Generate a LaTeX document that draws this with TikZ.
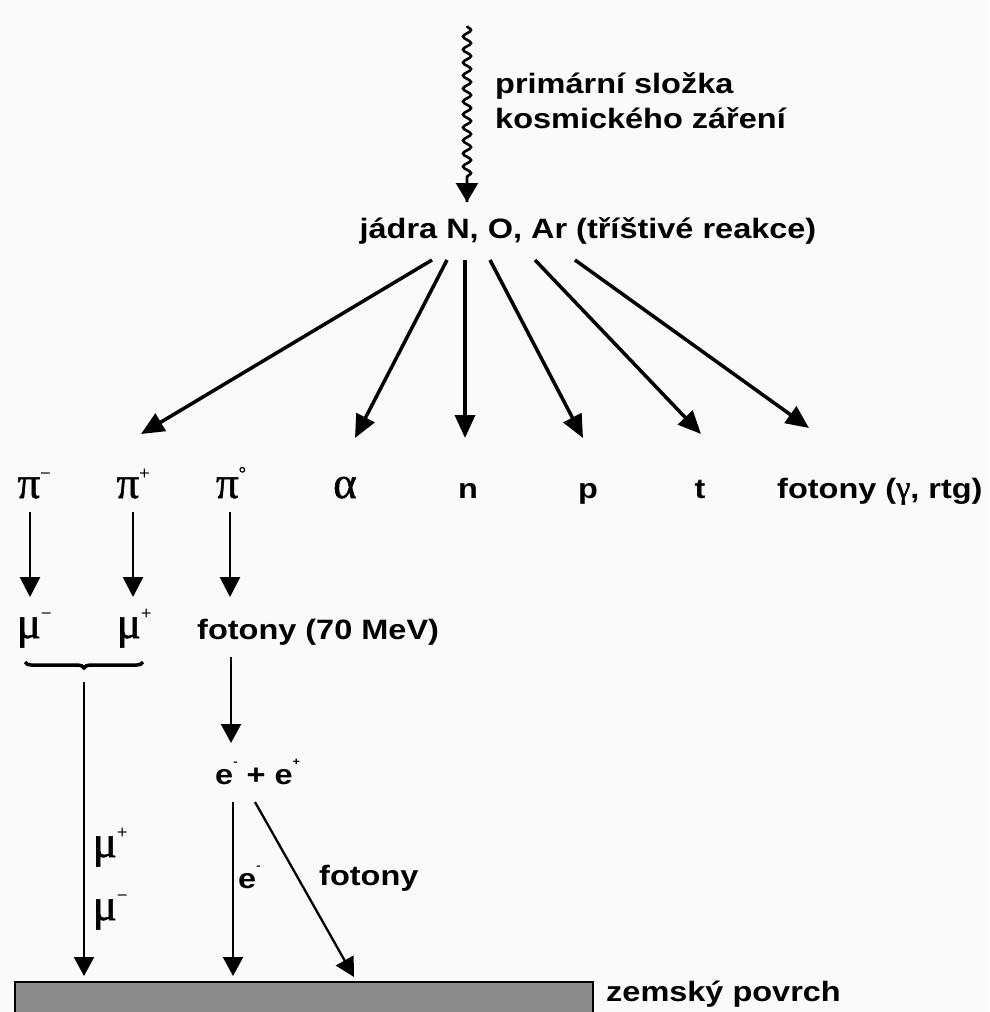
\documentclass[tikz,border=0pt]{standalone}
\usepackage{fontspec}
\setmainfont{Liberation Sans}[FakeStretch=1.16]
\newfontfamily\grk{Liberation Serif}[FakeBold=1.2]
\usetikzlibrary{arrows.meta,decorations.pathmorphing,decorations.pathreplacing,calc}
\definecolor{bg}{RGB}{250,250,250}
\definecolor{barfill}{RGB}{140,140,140}
\newcommand\gsup[1]{\raisebox{19pt}{\grk\fontsize{18}{18}\selectfont #1}}
\newcommand\esup[1]{\raisebox{19pt}{\fontsize{11}{11}\selectfont #1}}
\newcommand\gsym[2]{{\grk\fontsize{45}{45}\selectfont #1}\gsup{#2}}
\begin{document}
\begin{tikzpicture}[x=1pt,y=-1pt,
  lbl/.style={font=\bfseries\fontsize{28}{32}\selectfont, inner sep=0pt, anchor=base},
  gl/.style={inner sep=0pt, anchor=base},
  fan/.style={line width=3.5pt, -{Triangle[length=23pt,width=20pt]}},
  vert/.style={line width=2.7pt, -{Triangle[length=20pt,width=20pt]}},
  thin/.style={line width=2.3pt, -{Triangle[length=19pt,width=20pt]}}]
\fill[bg] (0,0) rectangle (989,1012);
\useasboundingbox (0,0) rectangle (989,1012);
% top
\coordinate (wtop) at (467,26);
\node[lbl, anchor=base west] (prim) at (495,93) {primární složka};
\node[lbl, anchor=base west] (kosm) at (495,128) {kosmického záření};
\node[lbl] (jadra) at (588,238) {jádra N, O, Ar (tříštivé reakce)};
\coordinate (wend) at (467,202);
\draw[line width=2.6pt, decorate, decoration={snake, amplitude=4pt, segment length=13pt, post length=20pt}] (wtop) -- (wend);
\draw[line width=2.6pt, -{Triangle[length=19pt,width=22pt]}] (467,186) -- (wend);
% row of products
\node[gl] (pim) at (34,498) {\gsym{π}{−}};
\node[gl] (pip) at (133,498) {\gsym{π}{+}};
\node[gl] (pi0) at (231,498) {\gsym{π}{°}};
\node[gl] (alpha) at (345,498) {{\grk\fontsize{45}{45}\selectfont α}};
\node[lbl] (n) at (468,498) {n};
\node[lbl] (p) at (588,498) {p};
\node[lbl] (t) at (700,498) {t};
\node[lbl, anchor=base west] (fot) at (777,498) {fotony ({\grk\mdseries\fontsize{32}{32}\selectfont γ}, rtg)};
% fan arrows
\coordinate (s1) at (432,260); \coordinate (e1) at (141,434);
\coordinate (s2) at (447,260); \coordinate (e2) at (355,438);
\coordinate (s3) at (465,260); \coordinate (e3) at (465,438);
\coordinate (s4) at (490,260); \coordinate (e4) at (583,438);
\coordinate (s5) at (535,260); \coordinate (e5) at (701,434);
\coordinate (s6) at (575,260); \coordinate (e6) at (809,428);
\foreach \i in {1,...,6} \draw[fan] (s\i) -- (e\i);
% muons and photons
\node[gl] (mum) at (34,638) {\gsym{μ}{−}};
\node[gl] (mup) at (134,638) {\gsym{μ}{+}};
\node[lbl, anchor=base west] (f70) at (197,639) {fotony (70 MeV)};
\coordinate (v1s) at (30,512); \coordinate (v1e) at (30,597);
\coordinate (v2s) at (133,512); \coordinate (v2e) at (133,597);
\coordinate (v3s) at (230,512); \coordinate (v3e) at (230,597);
\draw[vert] (v1s) -- (v1e);
\draw[vert] (v2s) -- (v2e);
\draw[vert] (v3s) -- (v3e);
% brace
\draw[line width=3.5pt, decorate, decoration={brace, mirror, amplitude=6pt}] (25,662) -- (143,662);
\coordinate (bt) at (84,682);
\coordinate (g1) at (84,976);
\draw[thin] (bt) -- (g1);
\node[gl] (mup2) at (110,857) {\gsym{μ}{+}};
\node[gl] (mum2) at (110,920) {\gsym{μ}{−}};
% e+e-
\node[lbl, anchor=base west] (ee) at (215,784) {e\esup{\bfseries -} + e\esup{\bfseries +}};
\coordinate (f70s) at (231,657); \coordinate (f70e) at (231,743);
\draw[thin] (f70s) -- (f70e);
\coordinate (d1) at (233,802); \coordinate (d2) at (255,802);
\coordinate (g2) at (233,976);
\coordinate (g3) at (354,977);
\draw[thin] (d1) -- (g2);
\draw[thin] (d2) -- (g3);
\node[lbl, anchor=base west] (elab) at (238,888) {e\esup{\bfseries -}};
\node[lbl, anchor=base west] (flab) at (319,885) {fotony};
% ground
\draw[line width=2pt, fill=barfill] (15,982) rectangle (593,1013);
\node[lbl, anchor=base west] (zem) at (606,1001) {zemský povrch};
\end{tikzpicture}
\end{document}
